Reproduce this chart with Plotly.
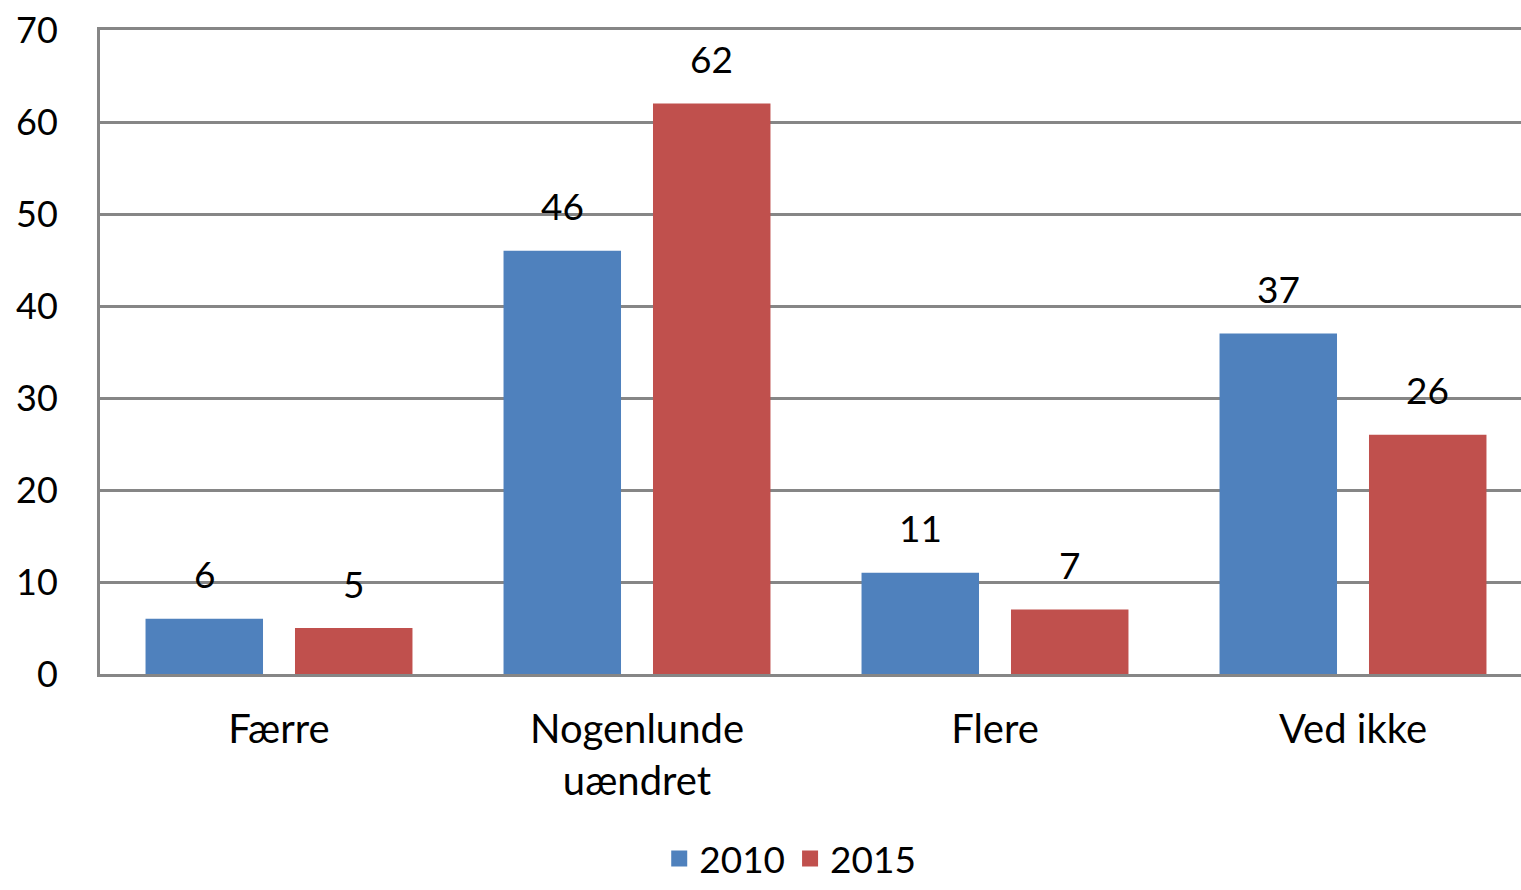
import plotly.graph_objects as go

categories = ["Færre", "Nogenlunde<br>uændret", "Flere", "Ved ikke"]
series_names = ["2010", "2015"]
values_2010 = [6, 46, 11, 37]
values_2015 = [5, 62, 7, 26]
y_ticks = [0, 10, 20, 30, 40, 50, 60, 70]

colors = ["#4F81BD", "#C0504D"]
FONT = "Lato"

fig = go.Figure()
for name, vals, col in zip(series_names, [values_2010, values_2015], colors):
    fig.add_trace(go.Bar(
        x=categories, y=vals, name=name, showlegend=False,
        marker=dict(color=col, line=dict(width=0)),
    ))
# legend entries with larger square swatches
for name, col in zip(series_names, colors):
    fig.add_trace(go.Scatter(
        x=[None], y=[None], mode="markers", name=name,
        marker=dict(symbol="square", size=22, color=col),
    ))

# data labels via annotations positioned on library axes
slot_px = 149.5
for i, vals in enumerate([values_2010, values_2015]):
    shift = (-0.5 + i) * slot_px
    for c, v in zip(categories, vals):
        fig.add_annotation(x=c, y=v, xref="x", yref="y", text=str(v), showarrow=False,
                           xshift=shift, yshift=45, yanchor="middle",
                           font=dict(family=FONT, size=37, color="black"))

fig.update_layout(
    width=1532, height=890,
    margin=dict(l=100, r=0, t=30, b=216),
    paper_bgcolor="white", plot_bgcolor="white",
    barmode="group", bargap=0.165, bargroupgap=0.214,
    font=dict(family=FONT, size=36, color="black"),
    showlegend=True,
    legend=dict(orientation="h", x=0.482, xanchor="center", yref="container", y=0, yanchor="bottom",
                font=dict(family=FONT, size=37, color="black"), itemwidth=30,
                itemsizing="trace", tracegroupgap=0),
)
fig.update_yaxes(range=[0, 70], tickvals=y_ticks, showgrid=True, gridcolor="#868686", gridwidth=3,
                 showline=True, linecolor="#868686", linewidth=3, ticks="", zeroline=False,
                 tickfont=dict(family=FONT, size=36), ticklabelstandoff=32, automargin=False,
                 ticklabeloverflow="allow")
fig.update_xaxes(showline=True, mirror=True, linecolor="#868686", linewidth=3, ticks="",
                 tickfont=dict(family=FONT, size=40), ticklabelstandoff=18, automargin=False)

fig.write_html("out.html", config={"displayModeBar": False},
               post_script="document.body.style.margin='0';document.body.style.overflow='hidden';")
